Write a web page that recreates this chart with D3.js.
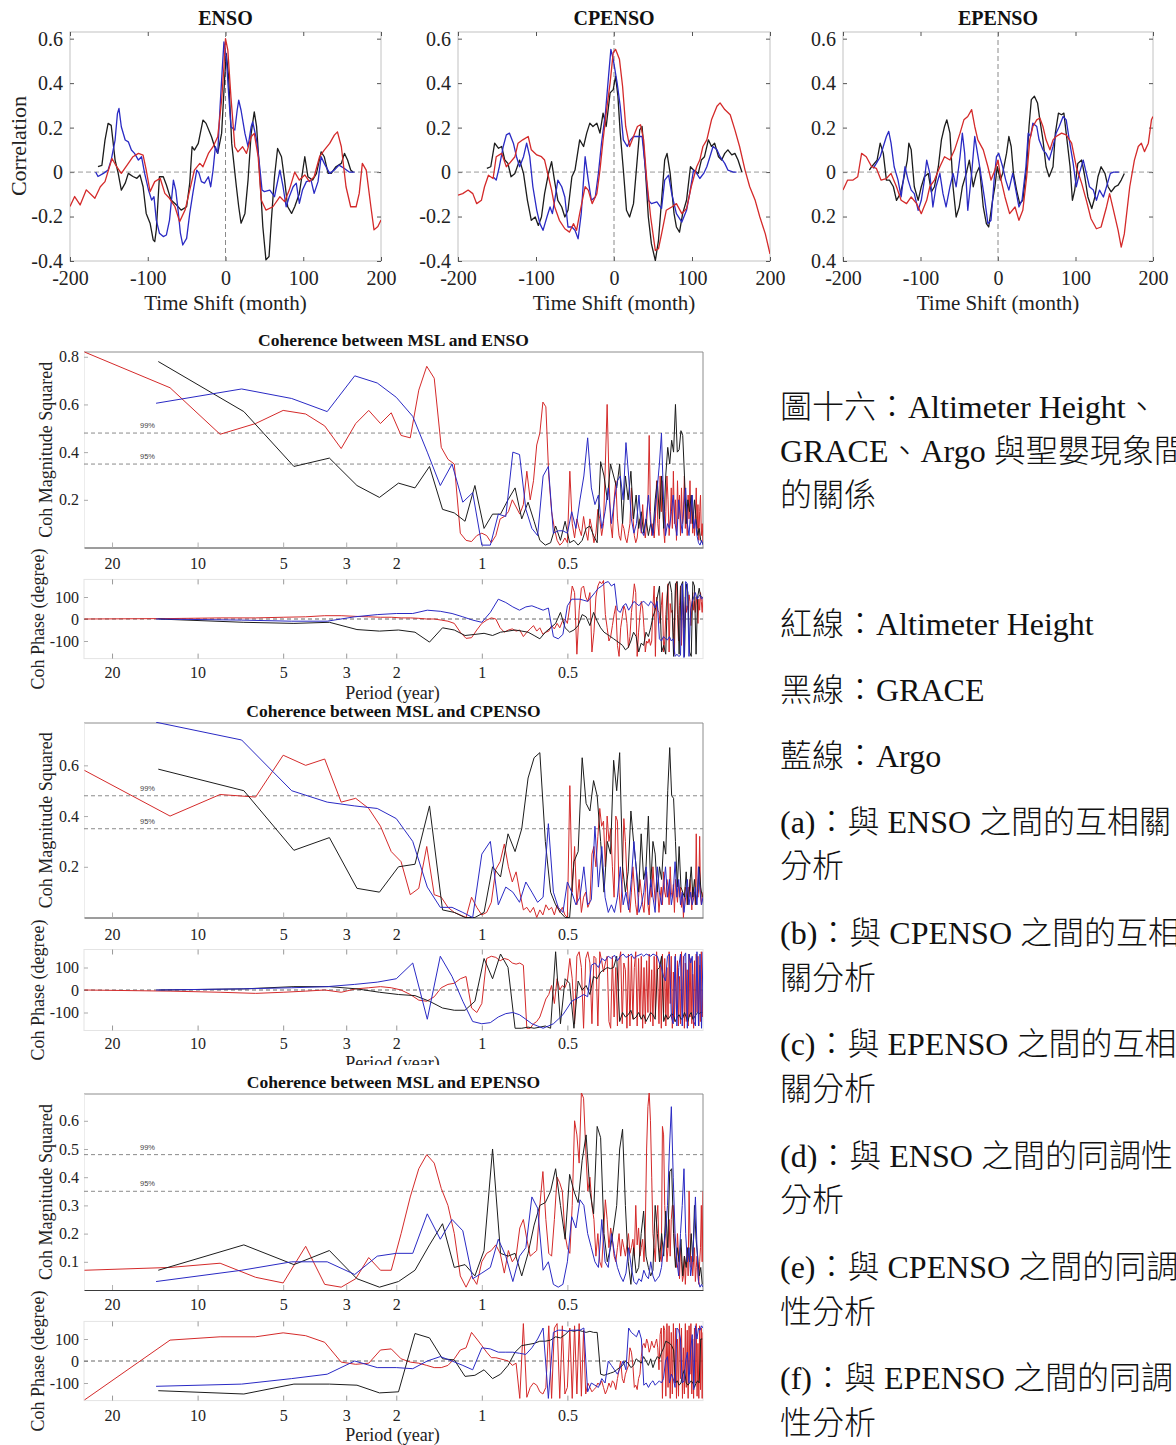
<!DOCTYPE html>
<html lang="zh-Hant">
<head>
<meta charset="utf-8">
<title>MSL and ENSO: time-shift correlation and coherence</title>
<script src="https://cdn.jsdelivr.net/npm/d3@7"></script>
<style>
  html, body { margin: 0; padding: 0; background: #fff; }
  svg { display: block; }
</style>
</head>
<body>
<svg id="fig" width="1176" height="1445"></svg>
<script>
// ---------- Time-shift correlation: [lag (month), correlation] ----------
const ccEnsoAlt = [[-200,-0.155],[-194,-0.11],[-187,-0.148],[-179,-0.08],[-168,-0.118],[-161,-0.066],[-155,-0.043],[-146,0.061],[-140,0.024],[-134,-0.006],[-125,0.039],[-119,0.069],[-112,0.084],[-106,0.076],[-102,0.01],[-97,-0.088],[-91,-0.043],[-84,-0.028],[-78,-0.096],[-72,-0.118],[-65,-0.156],[-59,-0.223],[-52,-0.171],[-46,-0.081],[-40,0.009],[-33,0.039],[-29,0.024],[-22,0.084],[-16,0.114],[-10,0.159],[-5,0.323],[-2,0.473],[0,0.6],[3,0.548],[7,0.338],[12,0.114],[16,0.091],[22,0.114],[27,0.084],[33,0.159],[37,0.174],[42,0.069],[46,-0.126],[52,-0.171],[61,-0.156],[70,-0.111],[76,-0.133],[82,-0.081],[89,0.0],[95,-0.036],[102,-0.013],[108,-0.043],[114,-0.021],[121,0.069],[127,0.099],[134,0.129],[140,0.166],[144,0.181],[149,0.114],[155,-0.066],[161,-0.156],[168,-0.156],[172,-0.096],[176,0.039],[181,0.009],[187,-0.156],[191,-0.26],[196,-0.245],[200,-0.216]];
const ccEnsoGrace = [[-164,0.024],[-159,0.03],[-155,0.144],[-151,0.219],[-147,0.21],[-142,0.054],[-138,-0.006],[-134,-0.081],[-129,-0.05],[-125,-0.006],[-119,-0.02],[-114,-0.028],[-110,-0.013],[-106,-0.066],[-102,-0.186],[-97,-0.23],[-93,-0.305],[-91,-0.313],[-89,-0.26],[-85,-0.021],[-80,-0.021],[-76,-0.058],[-70,-0.126],[-63,-0.148],[-57,-0.171],[-50,-0.156],[-46,-0.05],[-43,0.114],[-40,0.099],[-35,0.129],[-29,0.234],[-25,0.219],[-18,0.159],[-14,0.114],[-10,0.084],[-5,0.174],[-1,0.428],[1,0.533],[4,0.428],[8,0.129],[14,-0.066],[17,-0.156],[20,-0.23],[25,-0.186],[29,-0.036],[33,0.174],[37,0.271],[40,0.204],[44,-0.006],[48,-0.245],[52,-0.395],[56,-0.38],[59,-0.216],[63,-0.021],[67,0.106],[72,0.069],[76,-0.036],[80,-0.156],[85,-0.186],[89,-0.156],[95,-0.096],[102,0.069],[106,-0.021],[112,-0.036],[117,-0.006],[123,0.091],[127,0.069],[132,-0.006],[136,-0.006],[142,0.024],[149,0.039],[153,0.084],[157,0.054],[161,0.009],[164,0]];
const ccEnsoArgo = [[-167,0],[-164,-0.02],[-157,-0.006],[-151,0.009],[-147,0.054],[-142,0.144],[-139,0.263],[-137,0.286],[-134,0.204],[-129,0.144],[-125,0.136],[-121,0.099],[-117,0.084],[-112,0.054],[-108,0.069],[-104,-0.006],[-99,-0.081],[-95,-0.126],[-92,-0.111],[-89,-0.216],[-85,-0.275],[-80,-0.29],[-76,-0.283],[-72,-0.216],[-67,-0.036],[-64,-0.081],[-61,-0.171],[-58,-0.275],[-55,-0.328],[-50,-0.298],[-46,-0.186],[-42,-0.096],[-37,0.009],[-34,-0.006],[-31,-0.043],[-27,-0.05],[-22,-0.021],[-19,-0.066],[-16,0.009],[-13,0.114],[-10,0.084],[-7,0.293],[-4,0.473],[-2,0.585],[1,0.518],[4,0.353],[7,0.204],[12,0.189],[15,0.278],[17,0.323],[20,0.278],[25,0.174],[29,0.114],[33,0.204],[35,0.226],[40,0.144],[44,0.024],[47,-0.081],[50,-0.088],[57,-0.081],[63,-0.111],[70,0.009],[74,-0.066],[78,-0.156],[82,-0.111],[87,-0.066],[91,-0.05],[95,-0.141],[99,-0.081],[104,-0.043],[110,-0.036],[114,-0.096],[119,-0.043],[123,0.069],[127,0.039],[134,-0.006],[140,0.009],[146,0.031],[153,0.016],[159,0.0],[166,0]];

const ccCpAlt = [[-200,-0.104],[-194,-0.097],[-187,-0.081],[-181,-0.097],[-176,-0.142],[-170,-0.127],[-166,-0.066],[-161,-0.014],[-155,-0.029],[-151,0.069],[-144,0.084],[-138,0.024],[-134,0.039],[-127,0.069],[-123,0.13],[-117,0.145],[-110,0.16],[-106,0.1],[-99,0.077],[-93,0.069],[-89,0.054],[-84,-0.021],[-80,-0.081],[-76,-0.157],[-70,-0.217],[-63,-0.255],[-57,-0.27],[-52,-0.232],[-48,-0.262],[-44,-0.187],[-37,-0.066],[-33,-0.081],[-28,-0.142],[-22,-0.097],[-18,0.009],[-14,0.145],[-10,0.265],[-5,0.401],[-1,0.537],[2,0.552],[7,0.507],[11,0.386],[15,0.205],[20,0.115],[25,0.16],[30,0.205],[34,0.213],[38,0.145],[42,-0.036],[47,-0.202],[53,-0.353],[57,-0.345],[61,-0.278],[67,-0.172],[74,-0.157],[80,-0.142],[87,-0.187],[93,-0.164],[99,-0.066],[106,0.024],[110,0.054],[114,0.115],[119,0.145],[125,0.235],[132,0.296],[136,0.311],[142,0.281],[149,0.258],[155,0.19],[161,0.115],[168,0.009],[174,-0.066],[181,-0.127],[187,-0.202],[194,-0.278],[200,-0.368]];
const ccCpGrace = [[-163,0.017],[-158,0.024],[-153,0.13],[-148,0.107],[-144,0.115],[-140,0.054],[-136,0.039],[-132,-0.021],[-127,-0.006],[-121,0.054],[-116,-0.006],[-111,-0.127],[-106,-0.217],[-101,-0.202],[-97,-0.24],[-93,-0.202],[-89,-0.097],[-84,-0.006],[-80,0.047],[-76,-0.044],[-72,-0.127],[-67,-0.157],[-63,-0.202],[-59,-0.172],[-54,-0.021],[-50,0.009],[-44,0.145],[-39,0.115],[-35,0.175],[-31,0.22],[-27,0.205],[-22,0.22],[-18,0.175],[-14,0.265],[-10,0.205],[-5,0.356],[-1,0.371],[2,0.431],[5,0.341],[8,0.175],[12,0.009],[16,-0.172],[20,-0.202],[25,-0.142],[29,0.024],[33,0.19],[36,0.205],[40,0.024],[44,-0.202],[48,-0.323],[53,-0.398],[57,-0.308],[61,-0.127],[65,0.054],[68,0.084],[72,-0.006],[77,-0.187],[80,-0.247],[84,-0.27],[88,-0.187],[93,-0.127],[98,0.024],[102,0.009],[108,-0.006],[112,0.054],[116,0.069],[121,0.145],[125,0.115],[129,0.13],[134,0.069],[138,0.054],[142,0.084],[146,0.1],[151,0.077],[155,0.084],[159,0.054],[164,0]];
const ccCpArgo = [[-155,-0.021],[-151,-0.036],[-147,0.024],[-142,0.115],[-138,0.167],[-134,0.175],[-129,0.13],[-125,0.069],[-121,0.024],[-116,0.069],[-112,0.13],[-108,0.069],[-104,-0.066],[-99,-0.172],[-95,-0.232],[-91,-0.262],[-86,-0.202],[-82,-0.157],[-79,-0.187],[-76,-0.127],[-72,-0.036],[-67,-0.066],[-63,-0.112],[-59,-0.247],[-54,-0.247],[-50,-0.262],[-46,-0.3],[-42,-0.187],[-37,0.069],[-33,-0.036],[-29,-0.127],[-24,-0.112],[-20,-0.006],[-16,0.13],[-11,0.265],[-7,0.431],[-4,0.552],[-1,0.507],[4,0.401],[8,0.296],[12,0.145],[17,0.115],[21,0.145],[25,0.16],[30,0.16],[36,0.16],[40,0.024],[44,-0.127],[48,-0.142],[55,-0.134],[61,-0.164],[65,-0.036],[70,-0.014],[74,-0.097],[80,-0.187],[87,-0.225],[93,-0.172],[97,-0.097],[102,0.009],[106,-0.006],[110,-0.029],[115,-0.006],[119,0.024],[123,0.069],[127,0.115],[132,0.1],[136,0.069],[142,0.039],[146,0.009],[153,0],[157,0]];

const ccEpAlt = [[-200,-0.081],[-194,-0.036],[-187,-0.036],[-181,-0.021],[-176,0.084],[-170,0.069],[-163,0.024],[-157,0.017],[-151,-0.036],[-144,-0.029],[-138,-0.006],[-131,-0.066],[-125,-0.127],[-118,-0.142],[-112,-0.112],[-105,-0.142],[-99,-0.187],[-92,-0.127],[-88,-0.066],[-82,-0.036],[-75,0.024],[-69,0.069],[-62,0.054],[-56,0.1],[-49,0.175],[-44,0.235],[-39,0.25],[-34,0.281],[-30,0.205],[-26,0.145],[-19,0.1],[-13,0.024],[-9,-0.036],[-4,0.009],[0,0.054],[4,-0.036],[9,-0.112],[15,-0.187],[22,-0.157],[27,-0.217],[32,-0.172],[37,-0.021],[41,0.145],[45,0.205],[50,0.235],[54,0.243],[58,0.205],[62,0.145],[67,0.1],[71,0.145],[75,0.16],[82,0.175],[88,0.167],[95,0.13],[101,0.024],[108,-0.051],[114,-0.127],[120,-0.21],[127,-0.255],[133,-0.247],[140,-0.157],[144,-0.097],[148,-0.157],[155,-0.262],[159,-0.338],[163,-0.278],[170,-0.066],[176,0.054],[181,0.115],[185,0.13],[189,0.092],[194,0.13],[198,0.235],[200,0.25]];
const ccEpGrace = [[-166,0.009],[-163,0.024],[-156,0.054],[-152,0.13],[-148,0.084],[-144,-0.036],[-140,-0.036],[-135,-0.066],[-131,-0.127],[-126,-0.097],[-122,-0.036],[-117,0.054],[-115,0.13],[-112,0.1],[-108,-0.066],[-103,-0.127],[-99,-0.066],[-95,-0.021],[-90,-0.006],[-86,-0.089],[-82,-0.066],[-77,0.024],[-73,0.145],[-69,0.205],[-66,0.235],[-62,0.175],[-58,-0.066],[-54,-0.202],[-50,-0.157],[-46,-0.066],[-41,-0.006],[-37,0.054],[-32,-0.066],[-28,-0.006],[-24,0.024],[-19,-0.157],[-15,-0.232],[-12,-0.247],[-7,-0.127],[-4,-0.066],[-1,0.024],[3,-0.036],[6,-0.006],[11,0.084],[14,0.16],[17,0.115],[20,-0.006],[24,-0.081],[28,-0.142],[32,-0.127],[37,0.024],[40,0.205],[43,0.326],[47,0.341],[51,0.311],[54,0.235],[58,0.145],[62,0.024],[66,-0.021],[71,0.024],[74,0.175],[78,0.265],[82,0.258],[85,0.265],[88,0.175],[93,0.024],[96,-0.127],[99,-0.081],[103,0.039],[108,0.054],[112,-0.021],[116,-0.112],[121,-0.164],[125,-0.112],[129,-0.021],[133,0.024],[138,-0.006],[142,-0.066],[146,-0.089],[151,-0.066],[155,-0.059],[159,-0.036],[163,-0.006]];
const ccEpArgo = [[-161,0.017],[-157,0.039],[-152,0.069],[-148,0.115],[-144,0.16],[-141,0.183],[-138,0.13],[-134,0.024],[-129,-0.036],[-125,-0.112],[-120,0.024],[-116,-0.036],[-112,-0.081],[-108,-0.097],[-103,-0.172],[-99,-0.127],[-95,-0.036],[-92,0.054],[-88,-0.006],[-84,-0.157],[-80,-0.066],[-75,-0.006],[-71,-0.097],[-67,-0.157],[-62,-0.066],[-58,-0.006],[-54,-0.066],[-49,0.069],[-46,0.175],[-43,0.084],[-39,-0.172],[-34,-0.006],[-30,0.16],[-25,0.054],[-21,-0.036],[-17,-0.127],[-13,-0.232],[-9,-0.217],[-5,-0.036],[-2,0.069],[1,0.084],[6,0.024],[10,-0.036],[14,-0.081],[19,-0.006],[23,-0.081],[27,-0.157],[31,-0.127],[36,0.024],[39,0.175],[42,0.16],[45,0.22],[50,0.205],[53,0.145],[58,0.1],[62,0.084],[66,0.054],[71,0.115],[75,0.175],[79,0.205],[84,0.25],[88,0.235],[92,0.145],[97,0.039],[101,-0.066],[105,-0.006],[110,0.054],[114,-0.006],[118,-0.066],[123,-0.081],[127,-0.127],[131,-0.081],[136,-0.112],[140,-0.066],[145,-0.006],[149,0],[156,0]];

// ---------- Coherence between MSL and the indices ----------
// Values at harmonic n = 1, 2, 3 ... of each record, i.e. period = record length / n.
const recordYears = { alt: 25, grace: 13.75, argo: 14 };

const cohEnsoAlt = [
  0.82,0.67,0.475,0.52,0.575,0.56,0.51,0.415,0.52,0.575,
  0.52,0.565,0.47,0.46,0.66,0.76,0.71,0.42,0.37,0.35,
  0.06,0.03,0.025,0.05,0.06,0.05,0.02,0.05,0.12,0.13,
  0.15,0.2,0.17,0.14,0.18,0.32,0.2,0.28,0.43,0.48,
  0.61,0.59,0.3,0.15,0.08,0.03,0.01,0.02,0.04,0.02,
  0.32,0.1,0.04,0.12,0.08,0.05,0.13,0.07,0.03,0.12,
  0.08,0.02,0.06,0.16,0.12,0.05,0.1,0.35,0.6,0.3,
  0.1,0.04,0.2,0.28,0.12,0.05,0.03,0.1,0.08,0.04,
  0.02,0.06,0.1,0.25,0.13,0.05,0.02,0.04,0.1,0.12,
  0.06,0.18,0.08,0.04,0.1,0.2,0.47,0.15,0.05,0.1,
  0.04,0.12,0.28,0.1,0.05,0.3,0.15,0.28,0.08,0.02,
  0.15,0.3,0.2,0.05,0.12,0.25,0.08,0.32,0.1,0.2,
  0.03,0.28,0.12,0.22,0.05,0.25,0.1,0.15,0.3,0.08,
  0.18,0.05,0.22,0.12,0.28,0.1,0.2,0.06,0.15,0.05,
  0.12,0.25,0.08,0.18,0.03,0.15,0.22,0.05,0.1,0.02];
const cohEnsoGrace = [
  0.78,0.57,0.34,0.375,0.26,0.21,0.27,0.25,0.34,0.16,
  0.145,0.11,0.26,0.08,0.14,0.14,0.2,0.25,0.12,0.19,
  0.11,0.03,0.01,0.02,0.09,0.03,0.11,0.02,0.03,0.01,
  0.03,0.08,0.09,0.05,0.02,0.36,0.3,0.2,0.35,0.3,
  0.25,0.35,0.1,0.3,0.2,0.32,0.12,0.22,0.08,0.15,
  0.06,0.12,0.05,0.1,0.06,0.2,0.28,0.12,0.3,0.08,
  0.3,0.42,0.35,0.45,0.4,0.6,0.4,0.41,0.49,0.47,
  0.3,0.1,0.2,0.15,0.22,0.1,0.2,0.12,0.05,0.08,
  0.03,0.02];
const cohEnsoArgo = [
  0.605,0.665,0.625,0.57,0.72,0.69,0.63,0.55,0.4,0.26,
  0.35,0.19,0.23,0.01,0.01,0.14,0.13,0.4,0.39,0.16,
  0.08,0.05,0.3,0.34,0.06,0.07,0.07,0.06,0.15,0.08,
  0.2,0.3,0.46,0.25,0.18,0.22,0.08,0.15,0.25,0.1,
  0.2,0.28,0.3,0.2,0.44,0.3,0.12,0.06,0.1,0.22,
  0.07,0.05,0.12,0.22,0.1,0.05,0.15,0.25,0.35,0.48,
  0.2,0.05,0.1,0.08,0.15,0.22,0.1,0.05,0.2,0.12,
  0.06,0.18,0.25,0.1,0.05,0.15,0.22,0.08,0.12,0.05,
  0.02,0.01,0.03,0.01];
const phEnsoAlt = [
  0,2,5,5,8,10,15,15,12,10,
  8,8,5,5,3,0,0,-5,-10,-20,
  -60,-88,-85,-50,-20,-5,5,0,-40,-60,
  -50,-45,-55,-50,-80,-60,-45,-30,-55,-40,
  -70,-60,-55,-30,-45,-20,-40,-10,0,-20,
  60,150,120,-160,40,140,150,100,80,120,
  -150,-60,100,150,170,160,175,20,-40,-100,
  -80,-30,20,60,-120,-170,-40,10,60,40,
  -20,-130,-80,30,90,160,120,-170,-60,20,
  80,50,-40,-150,-100,-110,-90,-120,-100,60,
  150,-170,100,40,30,-20,60,120,-150,-100,
  20,100,160,-150,70,30,40,-60,-160,130,
  170,20,-100,60,150,-120,80,20,-40,100,
  30,60,40,110,80,-30,50,120,40,80,
  30,100,60,-20,90,40,120,80,30,100];
const phEnsoGrace = [
  0,-15,-20,-15,-48,-55,-50,-60,-105,-40,
  -50,-75,-70,-65,-75,-60,-55,-50,-55,-60,
  -75,-90,-60,-40,-20,30,-40,-60,-50,-30,
  20,10,-30,30,-10,-40,-60,-70,-80,-90,
  -100,-110,-120,-140,-130,-100,-60,-80,-150,-110,
  -120,-60,-80,-40,10,40,100,150,-150,-120,
  -160,150,170,120,-170,160,170,-160,150,170,
  -170,160,120,-150,-170,170,150,-160,100,140,
  100,100];
const phEnsoArgo = [
  0,-5,-10,-10,10,20,25,25,40,35,
  25,10,-5,-15,30,90,75,55,40,55,
  60,50,40,50,-80,-90,-70,60,90,90,
  90,85,80,100,120,140,150,165,170,150,
  160,40,30,60,70,40,60,80,70,60,
  75,80,70,60,80,70,50,80,-90,-100,
  -80,-90,-95,-80,-100,-90,-170,-160,-170,-165,
  160,-175,170,160,-170,40,80,100,120,90,
  100,110,90,100];

const cohCpAlt = [
  0.58,0.40,0.485,0.475,0.64,0.60,0.625,0.455,0.47,0.43,
  0.36,0.26,0.22,0.09,0.115,0.28,0.09,0.08,0.04,0.02,
  0.01,0.0,0.08,0.04,0.01,0.02,0.06,0.19,0.22,0.29,
  0.2,0.14,0.18,0.1,0.03,0.04,0.02,0.04,0.0,0.03,
  0.01,0.05,0.03,0.04,0.01,0.05,0.02,0.04,0.01,0.0,
  0.52,0.1,0.28,0.05,0.15,0.02,0.08,0.1,0.04,0.06,
  0.25,0.28,0.2,0.32,0.43,0.36,0.38,0.2,0.4,0.3,
  0.35,0.2,0.08,0.4,0.38,0.1,0.02,0.15,0.39,0.3,
  0.15,0.05,0.02,0.1,0.2,0.12,0.05,0.01,0.08,0.15,
  0.1,0.05,0.02,0.1,0.18,0.05,0.01,0.12,0.08,0.2,
  0.12,0.05,0.15,0.1,0.02,0.08,0.12,0.05,0.18,0.1,
  0.08,0.15,0.12,0.05,0.2,0.1,0.08,0.13,0.02,0.15,
  0.1,0.06,0.14,0.08,0.12,0.04,0.1,0.0,0.08,0.12,
  0.1,0.05,0.12,0.08,0.15,0.1,0.03,0.12,0.08,0.1,
  0.05,0.33,0.1,0.08,0.12,0.32,0.1,0.05,0.08,0.1];
const cohCpGrace = [
  0.585,0.5,0.265,0.315,0.115,0.10,0.20,0.21,0.44,0.03,
  0.02,0.0,0.0,0.02,0.2,0.16,0.33,0.26,0.35,0.55,
  0.63,0.65,0.3,0.1,0.05,0.02,0.0,0.0,0.22,0.26,
  0.63,0.45,0.42,0.54,0.48,0.3,0.1,0.3,0.25,0.62,
  0.5,0.65,0.2,0.1,0.18,0.42,0.3,0.2,0.1,0.33,
  0.15,0.2,0.4,0.12,0.3,0.25,0.1,0.2,0.15,0.3,
  0.25,0.5,0.67,0.48,0.47,0.3,0.12,0.28,0.12,0.1,
  0.08,0.18,0.05,0.12,0.2,0.08,0.15,0.05,0.1,0.2,
  0.12,0.08];
const cohCpArgo = [
  0.77,0.70,0.50,0.455,0.44,0.43,0.39,0.3,0.12,0.04,
  0.04,0.02,0.0,0.25,0.3,0.05,0.12,0.1,0.06,0.14,
  0.1,0.06,0.08,0.37,0.1,0.04,0.02,0.14,0.1,0.05,
  0.08,0.2,0.05,0.07,0.36,0.12,0.28,0.08,0.02,0.05,
  0.02,0.08,0.2,0.05,0.1,0.03,0.15,0.3,0.18,0.02,
  0.05,0.1,0.2,0.05,0.15,0.08,0.02,0.2,0.1,0.05,
  0.12,0.2,0.08,0.15,0.05,0.1,0.22,0.08,0.15,0.05,
  0.1,0.02,0.08,0.15,0.05,0.1,0.05,0.08,0.12,0.05,
  0.2,0.1,0.05,0.08];
const phCpAlt = [
  0,-5,-10,-15,-10,-5,0,-10,5,10,
  15,10,0,-20,-45,-50,-30,10,25,30,
  50,60,-80,-100,-60,140,150,145,130,140,
  135,120,115,120,110,-170,-170,-150,-140,-120,
  -80,-40,-20,20,-60,50,0,20,10,40,
  140,50,-150,150,170,100,-170,140,170,120,
  -150,150,140,-160,170,130,80,120,150,-140,
  -170,150,-120,100,-160,130,170,-150,120,90,
  -170,160,-160,150,-130,100,170,-160,140,-120,
  150,-170,100,-150,130,-100,160,-140,90,-160,
  150,-120,170,40,-150,120,-170,160,-100,140,
  -160,100,-130,170,-60,150,-170,80,-140,160,
  -110,130,-160,60,-150,170,-100,150,-170,120,
  -140,90,-160,160,-120,140,-150,70,-170,130,
  -130,160,-100,150,-160,110,-140,170,-120,0];
const phCpGrace = [
  0,5,15,15,5,-10,-20,-25,-50,-80,
  -90,-90,-50,140,50,160,100,-170,-170,-165,
  -170,-165,-160,-170,170,-150,50,30,-170,40,
  0,20,-20,60,50,80,90,100,95,100,
  150,-140,-100,-120,-110,-90,-130,-120,-100,-130,
  -110,-140,-120,-100,-110,-130,90,100,150,-140,
  -110,-130,-120,-105,-115,-140,-120,-110,-130,-125,
  -100,-120,-140,-110,-100,-130,-120,-110,-100,-105,
  -100,-100];
const phCpArgo = [
  0,5,10,15,25,35,50,120,-130,150,
  60,-50,-140,-150,-145,-120,-105,-100,-110,-130,
  -150,-160,-170,-160,-150,-130,-110,-80,-50,-40,
  -30,-20,-30,110,120,100,140,130,150,140,
  155,130,150,160,145,150,160,140,150,155,
  160,150,160,155,150,160,155,150,120,100,
  60,40,150,160,-120,-150,150,-160,100,160,
  -160,150,165,-170,160,120,150,-140,-160,170,
  -160,160,-170,170];

const cohEpAlt = [
  0.07,0.08,0.095,0.045,0.025,0.155,0.02,0.01,0.04,0.115,
  0.07,0.07,0.2,0.33,0.43,0.48,0.45,0.36,0.3,0.2,
  0.05,0.01,0.05,0.02,0.1,0.13,0.14,0.16,0.13,0.06,
  0.14,0.1,0.12,0.22,0.25,0.18,0.12,0.13,0.14,0.3,
  0.42,0.25,0.13,0.12,0.25,0.4,0.38,0.35,0.2,0.15,
  0.13,0.3,0.6,0.55,0.45,0.7,0.68,0.5,0.35,0.4,
  0.3,0.25,0.12,0.2,0.1,0.08,0.2,0.32,0.25,0.15,
  0.22,0.18,0.12,0.1,0.15,0.2,0.12,0.18,0.15,0.12,
  0.16,0.2,0.13,0.15,0.18,0.12,0.3,0.16,0.22,0.12,
  0.15,0.18,0.1,0.22,0.5,0.65,0.7,0.6,0.4,0.2,
  0.15,0.1,0.25,0.3,0.15,0.12,0.1,0.58,0.55,0.3,
  0.2,0.1,0.15,0.25,0.12,0.25,0.3,0.3,0.15,0.1,
  0.08,0.2,0.12,0.04,0.15,0.1,0.03,0.05,0.12,0.02,
  0.1,0.15,0.05,0.35,0.2,0.08,0.12,0.05,0.1,0.15,
  0.03,0.08,0.12,0.05,0.02,0.1,0.15,0.3,0.1,0.35];
const cohEpGrace = [
  0.07,0.16,0.09,0.14,0.04,0.01,0.03,0.07,0.16,0.235,
  0.08,0.09,0.05,0.14,0.5,0.13,0.12,0.13,0.05,0.13,
  0.23,0.3,0.31,0.35,0.43,0.3,0.18,0.41,0.35,0.31,
  0.46,0.55,0.35,0.27,0.58,0.54,0.2,0.1,0.15,0.22,
  0.3,0.5,0.57,0.3,0.1,0.02,0.15,0.06,0.08,0.2,
  0.28,0.12,0.08,0.05,0.07,0.3,0.2,0.1,0.2,0.12,
  0.28,0.15,0.42,0.43,0.2,0.08,0.15,0.1,0.18,0.05,
  0.12,0.08,0.15,0.1,0.2,0.1,0.3,0.18,0.12,0.05,
  0.08,0.02];
const cohEpArgo = [
  0.03,0.07,0.10,0.1,0.055,0.12,0.13,0.13,0.27,0.18,
  0.25,0.21,0.04,0.06,0.08,0.18,0.12,0.03,0.12,0.15,
  0.33,0.29,0.07,0.1,0.02,0.01,0.02,0.1,0.26,0.22,
  0.32,0.3,0.2,0.15,0.1,0.08,0.25,0.1,0.08,0.2,
  0.13,0.08,0.05,0.03,0.06,0.15,0.08,0.03,0.02,0.04,
  0.03,0.07,0.05,0.04,0.1,0.05,0.03,0.04,0.05,0.08,
  0.15,0.2,0.3,0.5,0.65,0.4,0.2,0.1,0.05,0.2,
  0.3,0.43,0.2,0.1,0.15,0.05,0.1,0.2,0.33,0.15,
  0.03,0.01,0.02,0.01];
const phEpAlt = [
  -177,95,110,110,128,115,85,-5,-15,-10,
  50,55,10,-5,-10,-20,-30,-30,-20,10,
  50,60,130,100,70,40,15,15,10,5,
  0,-20,-10,-170,170,-165,-120,-100,-110,-140,
  -150,-120,160,-170,150,170,-170,160,-150,-120,
  150,-170,160,-150,170,-160,140,-150,-100,-120,
  -140,-130,-120,-100,-110,-90,-120,-150,-130,-100,
  -120,-90,-100,-130,-80,-40,0,-80,-100,-60,
  -40,-20,60,40,-20,-120,-110,-130,-80,-60,
  20,70,80,60,100,80,40,60,90,70,
  60,80,100,60,-40,120,150,-170,160,140,
  -160,170,-120,160,-170,130,-150,170,-100,150,
  -170,100,-160,170,-80,150,-170,60,-150,170,
  -120,140,-170,160,-60,170,-150,100,-170,150,
  -100,170,-160,80,-170,160,-130,150,-170,130];
const phEpGrace = [
  -135,-150,-105,-105,-110,-145,-140,125,105,10,
  5,-70,-65,-40,-80,-60,-20,40,70,75,
  80,90,90,95,110,105,120,140,135,140,
  135,130,135,130,130,-60,-65,-60,-55,-50,
  -40,-30,-20,0,-10,-30,-20,10,0,-10,
  20,0,-20,10,-30,0,20,10,40,60,
  90,85,80,70,50,-100,-90,-110,-100,-60,
  -40,-100,-110,-100,-90,-100,-120,-100,-90,-100,
  100,100];
const phEpArgo = [
  -115,-105,-80,-60,0,-30,-30,-35,0,20,
  0,-20,-40,60,55,40,40,40,35,30,
  60,100,150,-170,130,140,140,135,140,140,
  140,150,-140,-100,-110,-120,-80,-100,0,-20,
  -40,-60,-30,0,-40,150,130,120,110,140,
  100,-110,-100,-120,-100,-90,-110,-100,-90,-100,
  -80,0,20,-100,-60,-80,-120,150,140,100,
  -100,-90,0,40,-100,50,120,-130,160,100,
  150,140,160,150];

const sigLevels = [{ label: '99%', value: 0.48 }, { label: '95%', value: 0.35 }];

// ---------- Tick values ----------
const lagTicks = [-200, -100, 0, 100, 200];
const corrTicks = [-0.4, -0.2, 0, 0.2, 0.4, 0.6];
const periodTicks = [20, 10, 5, 3, 2, 1, 0.5];
const phaseTicks = [-100, 0, 100];

// ---------- Caption text ----------
const captionText = [
  '圖十六：Altimeter Height、',
  'GRACE、Argo 與聖嬰現象間',
  '的關係',
  '紅線：Altimeter Height',
  '黑線：GRACE',
  '藍線：Argo',
  '(a)：與 ENSO 之間的互相關',
  '分析',
  '(b)：與 CPENSO 之間的互相',
  '關分析',
  '(c)：與 EPENSO 之間的互相',
  '關分析',
  '(d)：與 ENSO 之間的同調性',
  '分析',
  '(e)：與 CPENSO 之間的同調',
  '性分析',
  '(f)：與 EPENSO 之間的同調',
  '性分析'
];

// ================= drawing =================
const W = 1176, H = 1445;
const seriesColor = { alt: '#d42a2a', grace: '#1c1c1c', argo: '#2a2ac4' };
const SERIF = '"Liberation Serif","Times New Roman",serif';
const SANS = '"Liberation Sans",Arial,sans-serif';
const CAPTION_FONT = '"Liberation Serif","Noto Sans CJK TC",serif';

const svg = d3.select('#fig');
svg.append('rect').attr('width', W).attr('height', H).attr('fill', '#fff');
const defs = svg.append('defs');
let clipCount = 0;
function clipRect(x, y, w, h) {
  const id = 'clip' + (clipCount++);
  defs.append('clipPath').attr('id', id)
    .append('rect').attr('x', x).attr('y', y).attr('width', w).attr('height', h);
  return `url(#${id})`;
}
function styleAxis(g, fontSize, tickColor, domainColor) {
  g.attr('font-family', SERIF).attr('font-size', fontSize);
  g.selectAll('text').attr('fill', '#222');
  g.selectAll('.tick line').attr('stroke', tickColor);
  g.select('.domain').attr('stroke', domainColor || 'none');
}
const fmtCorr = d => (d === 0 ? '0' : d.toFixed(1));

// ---- top row: correlation against time shift ----
const corrTop = 32, corrBot = 261;
const corrPanels = [
  { name: 'ENSO',   x0: 70,  x1: 381,  data: { grace: ccEnsoGrace, argo: ccEnsoArgo, alt: ccEnsoAlt }, ylabel: 'Correlation' },
  { name: 'CPENSO', x0: 458, x1: 770,  data: { grace: ccCpGrace,   argo: ccCpArgo,   alt: ccCpAlt } },
  { name: 'EPENSO', x0: 843, x1: 1153, data: { grace: ccEpGrace,   argo: ccEpArgo,   alt: ccEpAlt }, cropLeft: 811 }
];

corrPanels.forEach(p => {
  const root = svg.append('g');
  if (p.cropLeft) root.attr('clip-path', clipRect(p.cropLeft, 0, W - p.cropLeft, 330));
  const x = d3.scaleLinear().domain([-200, 200]).range([p.x0, p.x1]);
  const y = d3.scaleLinear().domain([-0.4, 0.63]).range([corrBot, corrTop]);

  root.append('rect')
    .attr('x', p.x0).attr('y', corrTop).attr('width', p.x1 - p.x0).attr('height', corrBot - corrTop)
    .attr('fill', 'none').attr('stroke', '#c2c2c2').attr('stroke-width', 1);

  const xb = root.append('g').attr('transform', `translate(0,${corrBot})`)
    .call(d3.axisBottom(x).tickValues(lagTicks).tickFormat(d => String(d))
      .tickSizeInner(-4).tickSizeOuter(0).tickPadding(10));
  styleAxis(xb, 20, '#555');
  const xt = root.append('g').attr('transform', `translate(0,${corrTop})`)
    .call(d3.axisTop(x).tickValues(lagTicks).tickFormat('').tickSizeInner(-4).tickSizeOuter(0));
  styleAxis(xt, 20, '#555');
  const yl = root.append('g').attr('transform', `translate(${p.x0},0)`)
    .call(d3.axisLeft(y).tickValues(corrTicks).tickFormat(fmtCorr)
      .tickSizeInner(-4).tickSizeOuter(0).tickPadding(7));
  styleAxis(yl, 20, '#555');
  const yr = root.append('g').attr('transform', `translate(${p.x1},0)`)
    .call(d3.axisRight(y).tickValues(corrTicks).tickFormat('').tickSizeInner(-4).tickSizeOuter(0));
  styleAxis(yr, 20, '#555');

  // zero reference lines
  root.append('line')
    .attr('x1', x(-200)).attr('x2', x(200)).attr('y1', y(0)).attr('y2', y(0))
    .attr('stroke', '#9a9a9a').attr('stroke-width', 1).attr('stroke-dasharray', '5,3');
  root.append('line')
    .attr('x1', x(0)).attr('x2', x(0)).attr('y1', corrTop).attr('y2', corrBot)
    .attr('stroke', '#8a8a8a').attr('stroke-width', 1).attr('stroke-dasharray', '5,3');

  const plot = root.append('g').attr('clip-path', clipRect(p.x0, corrTop, p.x1 - p.x0, corrBot - corrTop));
  const line = d3.line().x(d => x(d[0])).y(d => y(d[1]));
  Object.keys(p.data).forEach(k => {
    plot.append('path').datum(p.data[k]).attr('d', line)
      .attr('fill', 'none').attr('stroke', seriesColor[k]).attr('stroke-width', 1.3)
      .attr('stroke-linejoin', 'round');
  });

  root.append('text').text(p.name)
    .attr('x', (p.x0 + p.x1) / 2).attr('y', 18)
    .attr('text-anchor', 'middle').attr('dominant-baseline', 'central')
    .attr('font-family', SERIF).attr('font-size', 20).attr('font-weight', 'bold').attr('fill', '#111');
  root.append('text').text('Time Shift (month)')
    .attr('x', (p.x0 + p.x1) / 2).attr('y', 303)
    .attr('text-anchor', 'middle').attr('dominant-baseline', 'central')
    .attr('font-family', SERIF).attr('font-size', 21).attr('fill', '#222');
  if (p.ylabel) {
    root.append('text').text(p.ylabel)
      .attr('transform', 'translate(18,146) rotate(-90)')
      .attr('text-anchor', 'middle').attr('dominant-baseline', 'central')
      .attr('font-family', SERIF).attr('font-size', 22).attr('fill', '#222');
  }
});

// ---- coherence panels ----
const cohX0 = 84, cohX1 = 703;
const px = d3.scaleLog().domain([25.1, 1 / 6]).range([cohX0, cohX1]);
const cohPanels = [
  { name: 'ENSO', titleY: 340, mTop: 352, mBot: 547.5, yMax: 0.82, yTicks: [0.2, 0.4, 0.6, 0.8],
    pTop: 579.4, pBot: 658.6, lab1: 563, lab2: 672, periodY: 693,
    coh: { alt: cohEnsoAlt, grace: cohEnsoGrace, argo: cohEnsoArgo },
    ph:  { alt: phEnsoAlt,  grace: phEnsoGrace,  argo: phEnsoArgo } },
  { name: 'CPENSO', titleY: 711, mTop: 723, mBot: 917.5, yMax: 0.767, yTicks: [0.2, 0.4, 0.6],
    pTop: 949.5, pBot: 1030.5, lab1: 934, lab2: 1043, periodY: 1063, periodCut: true,
    coh: { alt: cohCpAlt, grace: cohCpGrace, argo: cohCpArgo },
    ph:  { alt: phCpAlt,  grace: phCpGrace,  argo: phCpArgo } },
  { name: 'EPENSO', titleY: 1082, mTop: 1094, mBot: 1290, yMax: 0.695, yTicks: [0.1, 0.2, 0.3, 0.4, 0.5, 0.6],
    pTop: 1321.4, pBot: 1400.6, lab1: 1304, lab2: 1415, periodY: 1435,
    coh: { alt: cohEpAlt, grace: cohEpGrace, argo: cohEpArgo },
    ph:  { alt: phEpAlt,  grace: phEpGrace,  argo: phEpArgo } }
];
const toPeriod = (vals, years) => vals.map((v, i) => [years / (i + 1), v]);
const FS = 16;

cohPanels.forEach(c => {
  const g = svg.append('g');
  const my = d3.scaleLinear().domain([0, c.yMax]).range([c.mBot, c.mTop]);
  const py = d3.scaleLinear().domain([-180, 180]).range([c.pBot, c.pTop]);

  // --- magnitude-squared coherence ---
  g.append('line').attr('x1', cohX0).attr('x2', cohX1).attr('y1', c.mTop).attr('y2', c.mTop)
    .attr('stroke', '#8c8c8c').attr('stroke-width', 1);
  g.append('line').attr('x1', cohX1).attr('x2', cohX1).attr('y1', c.mTop).attr('y2', c.mBot)
    .attr('stroke', '#8c8c8c').attr('stroke-width', 1);
  const mL = g.append('g').attr('transform', `translate(${cohX0},0)`)
    .call(d3.axisLeft(my).tickValues(c.yTicks).tickFormat(d => d.toFixed(1)).tickSizeInner(-4).tickSizeOuter(0).tickPadding(5));
  styleAxis(mL, FS, '#aaa', '#ececec');
  const mB = g.append('g').attr('transform', `translate(0,${c.mBot})`)
    .call(d3.axisBottom(px).tickValues(periodTicks).tickFormat(d => String(d)).tickSizeInner(-5).tickSizeOuter(0)
      .tickPadding(c.lab1 - c.mBot - 0.36 * FS));
  styleAxis(mB, FS, '#b0b0b0', '#3a3a3a');

  sigLevels.forEach(s => {
    g.append('line').attr('x1', cohX0).attr('x2', cohX1).attr('y1', my(s.value)).attr('y2', my(s.value))
      .attr('stroke', '#8a8a8a').attr('stroke-width', 1).attr('stroke-dasharray', '4,3');
    g.append('text').text(s.label).attr('x', 140).attr('y', my(s.value) - 5)
      .attr('font-family', SANS).attr('font-size', 7.5).attr('fill', '#444');
  });

  const mPlot = g.append('g').attr('clip-path', clipRect(cohX0, c.mTop - 1, cohX1 - cohX0, c.mBot - c.mTop + 2));
  const mLine = d3.line().x(d => px(d[0])).y(d => my(d[1]));
  ['alt', 'grace', 'argo'].forEach(k => {
    mPlot.append('path').datum(toPeriod(c.coh[k], recordYears[k])).attr('d', mLine)
      .attr('fill', 'none').attr('stroke', seriesColor[k]).attr('stroke-width', 1).attr('stroke-linejoin', 'round');
  });

  g.append('text').text('Coherence between MSL and ' + c.name)
    .attr('x', (cohX0 + cohX1) / 2).attr('y', c.titleY)
    .attr('text-anchor', 'middle').attr('dominant-baseline', 'central')
    .attr('font-family', SERIF).attr('font-size', 17.5).attr('font-weight', 'bold').attr('fill', '#111');
  g.append('text').text('Coh Magnitude Squared')
    .attr('transform', `translate(46,${(c.mTop + c.mBot) / 2}) rotate(-90)`)
    .attr('text-anchor', 'middle').attr('dominant-baseline', 'central')
    .attr('font-family', SERIF).attr('font-size', 18).attr('fill', '#222');

  // --- coherence phase ---
  g.append('rect').attr('x', cohX0).attr('y', c.pTop).attr('width', cohX1 - cohX0).attr('height', c.pBot - c.pTop)
    .attr('fill', 'none').attr('stroke', '#e4e4e4').attr('stroke-width', 1);
  const pL = g.append('g').attr('transform', `translate(${cohX0},0)`)
    .call(d3.axisLeft(py).tickValues(phaseTicks).tickFormat(d => String(d)).tickSizeInner(-4).tickSizeOuter(0).tickPadding(5));
  styleAxis(pL, FS, '#aaa', 'none');
  const pT = g.append('g').attr('transform', `translate(0,${c.pTop})`)
    .call(d3.axisTop(px).tickValues(periodTicks).tickFormat('').tickSizeInner(-5).tickSizeOuter(0));
  styleAxis(pT, FS, '#999', 'none');
  const pB = g.append('g').attr('transform', `translate(0,${c.pBot})`)
    .call(d3.axisBottom(px).tickValues(periodTicks).tickFormat(d => String(d))
      .tickSizeInner(-5).tickSizeOuter(0).tickPadding(c.lab2 - c.pBot - 0.36 * FS));
  styleAxis(pB, FS, '#999', 'none');

  g.append('line').attr('x1', cohX0).attr('x2', cohX1).attr('y1', py(0)).attr('y2', py(0))
    .attr('stroke', '#666').attr('stroke-width', 1).attr('stroke-dasharray', '4,3');

  const pPlot = g.append('g').attr('clip-path', clipRect(cohX0, c.pTop, cohX1 - cohX0, c.pBot - c.pTop));
  const pLine = d3.line().x(d => px(d[0])).y(d => py(d[1]));
  ['alt', 'grace', 'argo'].forEach(k => {
    pPlot.append('path').datum(toPeriod(c.ph[k], recordYears[k])).attr('d', pLine)
      .attr('fill', 'none').attr('stroke', seriesColor[k]).attr('stroke-width', 1).attr('stroke-linejoin', 'round');
  });

  g.append('text').text('Coh Phase (degree)')
    .attr('transform', `translate(38,${(c.pTop + c.pBot) / 2}) rotate(-90)`)
    .attr('text-anchor', 'middle').attr('dominant-baseline', 'central')
    .attr('font-family', SERIF).attr('font-size', 18).attr('fill', '#222');
  g.append('text').text('Period (year)')
    .attr('x', (cohX0 + cohX1) / 2 - 1).attr('y', c.periodY)
    .attr('text-anchor', 'middle').attr('dominant-baseline', 'central')
    .attr('font-family', SERIF).attr('font-size', 18).attr('fill', '#222');
  if (c.periodCut) {
    // the next panel's block sits over the lower half of this label
    g.append('rect').attr('x', 300).attr('y', c.periodY + 2).attr('width', 190).attr('height', 12).attr('fill', '#fff');
  }
});

// ---- caption on the right ----
const captionY = [407, 451, 495, 624, 690, 756, 822, 866, 933, 978, 1044, 1089, 1156, 1200, 1267, 1312, 1378, 1423];
const cap = svg.append('g').attr('font-family', CAPTION_FONT).attr('font-size', 32)
  .attr('font-weight', 300).attr('fill', '#111');
captionText.forEach((t, i) => {
  cap.append('text').text(t)
    .attr('x', 780).attr('y', captionY[i])
    .attr('dominant-baseline', 'central')
    .attr('xml:space', 'preserve');
});
</script>
</body>
</html>
